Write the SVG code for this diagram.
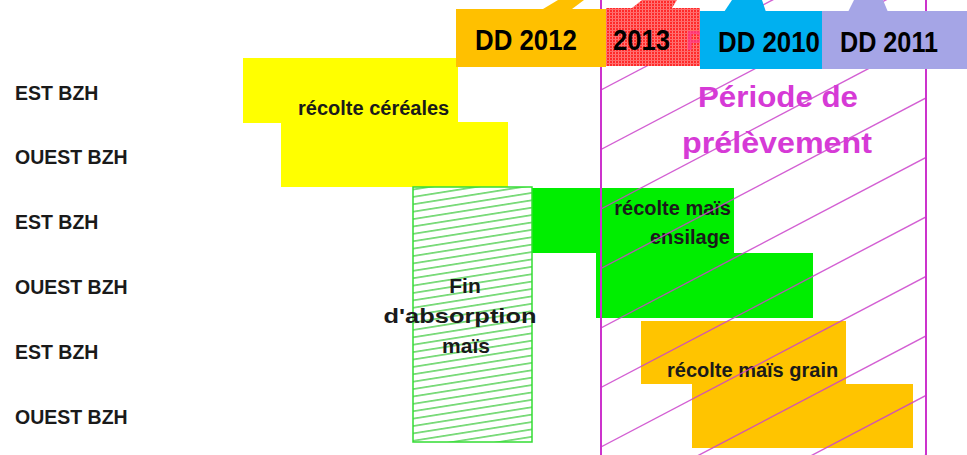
<svg xmlns="http://www.w3.org/2000/svg" width="967" height="455" viewBox="0 0 967 455">
<style>
.row{font-family:"Liberation Sans",Arial,sans-serif;font-weight:bold;font-size:19.5px;fill:#1a1a1a}
.lbl{font-family:"Liberation Sans",Arial,sans-serif;font-weight:bold;font-size:20px;fill:#1a1a1a}
.dd{font-family:"Liberation Sans",Arial,sans-serif;font-weight:bold;font-size:29px;fill:#000}
.title{font-family:"Liberation Sans",Arial,sans-serif;font-weight:bold;font-size:30px;fill:#d63ad6}
.mh{stroke:#cc44cc;stroke-width:1.4;opacity:0.85}
</style>
<defs>
<pattern id="gh" width="12" height="7.3" patternUnits="userSpaceOnUse" patternTransform="rotate(-9)">
<rect width="12" height="7.3" fill="#ffffff"/>
<line x1="0" y1="3.6" x2="12" y2="3.6" stroke="#44cc44" stroke-width="1.3"/>
</pattern>
<pattern id="redtex" width="3" height="3" patternUnits="userSpaceOnUse">
<rect width="3" height="3" fill="#ff2a2a"/>
<rect x="0" y="0" width="1" height="3" fill="#ff7a7a"/>
<rect x="0" y="0" width="3" height="1" fill="#ff6a6a"/>
</pattern>
<clipPath id="pclip"><rect x="601" y="0" width="325" height="455"/></clipPath>
</defs>
<rect width="967" height="455" fill="#ffffff"/>

<g id="rows">
<text class="row" x="15" y="100">EST BZH</text>
<text class="row" x="15" y="164">OUEST BZH</text>
<text class="row" x="15" y="229">EST BZH</text>
<text class="row" x="15" y="294">OUEST BZH</text>
<text class="row" x="15" y="359">EST BZH</text>
<text class="row" x="15" y="424">OUEST BZH</text>
</g>

<g id="cereales">
<rect x="243" y="58" width="215" height="65" fill="#ffff00"/>
<rect x="281" y="122" width="227" height="65" fill="#ffff00"/>
<text class="lbl" x="298" y="115">récolte céréales</text>
</g>

<g id="ensilage">
<rect x="532" y="188" width="202" height="65" fill="#00ee00"/>
<rect x="596" y="253" width="217" height="65" fill="#00ee00"/>
<text class="lbl" x="731" y="215" text-anchor="end">récolte maïs</text>
<text class="lbl" x="730" y="244" text-anchor="end">ensilage</text>
</g>

<g id="absorption">
<rect x="413" y="187" width="119" height="255" fill="url(#gh)" stroke="#33dd33" stroke-width="1.5"/>
<text class="lbl" x="465" y="293" text-anchor="middle" style="font-size:21px">Fin</text>
<text class="lbl" x="460" y="323" text-anchor="middle" style="font-size:21px" textLength="153" lengthAdjust="spacingAndGlyphs">d'absorption</text>
<text class="lbl" x="466" y="353" text-anchor="middle" style="font-size:21px">maïs</text>
</g>

<g id="grain">
<rect x="641" y="321" width="205" height="63" fill="#ffc400"/>
<rect x="692" y="384" width="221" height="64" fill="#ffc400"/>
<text class="lbl" x="667" y="377">récolte maïs grain</text>
</g>

<g id="periode">
<g clip-path="url(#pclip)">
<line class="mh" x1="601" y1="30.5" x2="926" y2="-140.1"/>
<line class="mh" x1="601" y1="90" x2="926" y2="-80.6"/>
<line class="mh" x1="601" y1="149.5" x2="926" y2="-21.1"/>
<line class="mh" x1="601" y1="209" x2="926" y2="38.4"/>
<line class="mh" x1="601" y1="268.5" x2="926" y2="97.9"/>
<line class="mh" x1="601" y1="328" x2="926" y2="157.4"/>
<line class="mh" x1="601" y1="387.5" x2="926" y2="216.9"/>
<line class="mh" x1="601" y1="447" x2="926" y2="276.4"/>
<line class="mh" x1="601" y1="506.5" x2="926" y2="335.9"/>
<line class="mh" x1="601" y1="566" x2="926" y2="395.4"/>
<line class="mh" x1="601" y1="625.5" x2="926" y2="454.9"/>
</g>
<line x1="601" y1="0" x2="601" y2="455" stroke="#cc33cc" stroke-width="2"/>
<line x1="926" y1="0" x2="926" y2="455" stroke="#cc33cc" stroke-width="2"/>
<text class="title" x="698" y="107" textLength="160" lengthAdjust="spacingAndGlyphs">Période de</text>
<text class="title" x="682" y="153" textLength="190" lengthAdjust="spacingAndGlyphs">prélèvement</text>
</g>

<g id="dd2012">
<polygon points="543,9 558,0 584,0 572,9" fill="#ffc000"/>
<rect x="456" y="9" width="150" height="58" fill="#ffc000"/>
<text class="dd" x="475" y="50" textLength="102" lengthAdjust="spacingAndGlyphs">DD 2012</text>
</g>

<g id="dd2013">
<polygon points="632,8 642,0 677,0 672,8" fill="url(#redtex)"/>
<rect x="606" y="8" width="94" height="58" fill="url(#redtex)"/>
<text x="686" y="50" style="font-family:'Liberation Sans',Arial,sans-serif;font-weight:bold;font-size:28px;fill:#ff3a8a;opacity:0.7">P</text>
<text class="dd" x="613" y="50" textLength="57" lengthAdjust="spacingAndGlyphs">2013</text>
</g>

<g id="dd2010">
<polygon points="724,12 732,0 762,0 766,12" fill="#00b0f0"/>
<rect x="700" y="11" width="122" height="58" fill="#00b0f0"/>
<text class="dd" x="718" y="52" textLength="102" lengthAdjust="spacingAndGlyphs">DD 2010</text>
</g>

<g id="dd2011">
<polygon points="848,12 854,0 883,0 888,12" fill="#a5a5e6"/>
<rect x="822" y="11" width="145" height="58" fill="#a5a5e6"/>
<text class="dd" x="840" y="52" textLength="98" lengthAdjust="spacingAndGlyphs">DD 2011</text>
</g>
</svg>
